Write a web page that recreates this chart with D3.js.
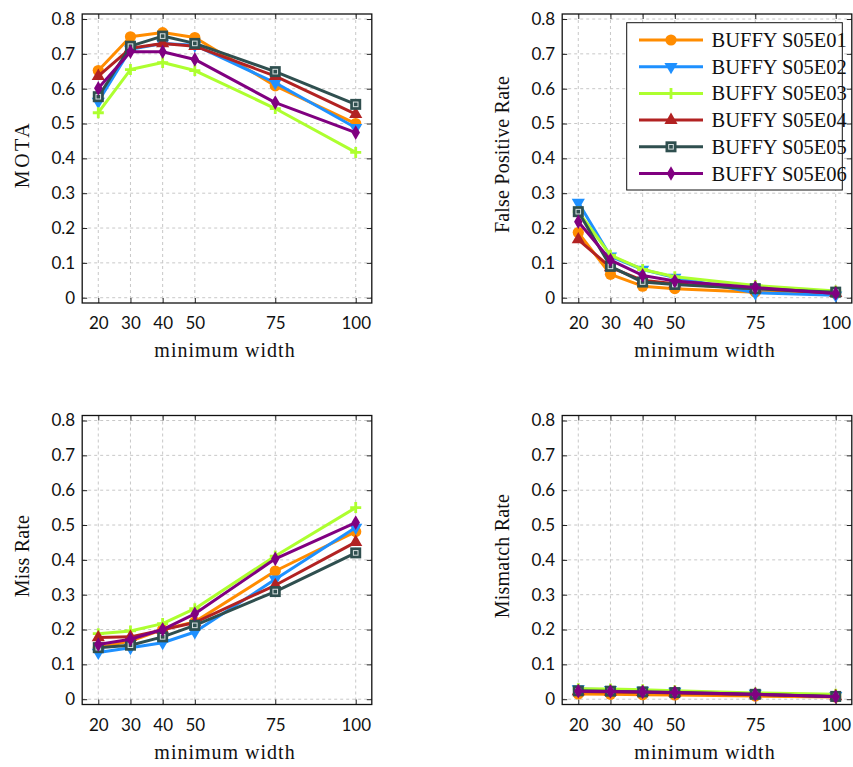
<!DOCTYPE html>
<html>
<head>
<meta charset="utf-8">
<script src="https://cdn.jsdelivr.net/npm/d3@7"></script>
<style>
  html, body { margin: 0; padding: 0; background: #fff; }
  svg { display: block; }
</style>
</head>
<body>
<svg id="chart" width="853" height="767"></svg>
<script>
// Minimum track width settings on the x axis
const widths = [20, 30, 40, 50, 75, 100];
const yTicks = [0, 0.1, 0.2, 0.3, 0.4, 0.5, 0.6, 0.7, 0.8];

const seriesNames = ["BUFFY S05E01", "BUFFY S05E02", "BUFFY S05E03",
                     "BUFFY S05E04", "BUFFY S05E05", "BUFFY S05E06"];
const seriesColors = ["#ff8c00", "#1e90ff", "#adff2f", "#b22222", "#2f4f4f", "#800080"];
const seriesMarkers = ["circle", "triangleDown", "plus", "triangleUp", "square", "diamond"];

// One row per episode, one value per minimum width
const mota = [
  [0.652, 0.749, 0.761, 0.747, 0.608, 0.500],
  [0.563, 0.713, 0.730, 0.725, 0.617, 0.488],
  [0.531, 0.655, 0.675, 0.652, 0.543, 0.417],
  [0.636, 0.716, 0.730, 0.722, 0.636, 0.527],
  [0.577, 0.722, 0.751, 0.730, 0.649, 0.555],
  [0.601, 0.706, 0.706, 0.684, 0.560, 0.474]
];
const falsePositive = [
  [0.187, 0.067, 0.033, 0.026, 0.016, 0.012],
  [0.273, 0.119, 0.081, 0.058, 0.014, 0.007],
  [0.247, 0.122, 0.081, 0.060, 0.035, 0.019],
  [0.167, 0.087, 0.050, 0.040, 0.026, 0.013],
  [0.247, 0.090, 0.045, 0.038, 0.026, 0.016],
  [0.218, 0.108, 0.064, 0.048, 0.029, 0.012]
];
const missRate = [
  [0.148, 0.167, 0.200, 0.222, 0.368, 0.481],
  [0.134, 0.148, 0.162, 0.193, 0.344, 0.493],
  [0.188, 0.196, 0.217, 0.260, 0.411, 0.550],
  [0.177, 0.179, 0.199, 0.220, 0.327, 0.451],
  [0.148, 0.155, 0.179, 0.212, 0.309, 0.420],
  [0.157, 0.172, 0.200, 0.245, 0.403, 0.507]
];
const mismatchRate = [
  [0.015, 0.014, 0.013, 0.012, 0.009, 0.006],
  [0.029, 0.027, 0.025, 0.022, 0.016, 0.010],
  [0.030, 0.029, 0.027, 0.024, 0.018, 0.014],
  [0.022, 0.021, 0.020, 0.018, 0.013, 0.008],
  [0.024, 0.023, 0.021, 0.019, 0.014, 0.008],
  [0.023, 0.022, 0.021, 0.019, 0.014, 0.007]
];

const svg = d3.select("#chart");
const plotW = 289.6, plotH = 289;
const tickFont = "Lato, 'Open Sans', sans-serif";
const titleFont = "'Liberation Serif', 'Times New Roman', serif";

const panels = [
  { values: mota,          title: "MOTA",                left: 82.2,  top: 14,    titleX: 22,  legend: false },
  { values: falsePositive, title: "False Positive Rate", left: 562.2, top: 14,    titleX: 502, legend: true },
  { values: missRate,      title: "Miss Rate",           left: 82.2,  top: 415.5, titleX: 22,  legend: false },
  { values: mismatchRate,  title: "Mismatch Rate",       left: 562.2, top: 415.5, titleX: 502, legend: false }
];

function drawMarker(g, type, color, x, y) {
  const t = `translate(${x},${y})`;
  if (type === "circle") {
    g.append("circle").attr("cx", x).attr("cy", y).attr("r", 5.6).attr("fill", color);
  } else if (type === "triangleDown" || type === "triangleUp") {
    g.append("path")
      .attr("d", d3.symbol(d3.symbolTriangle, 75)())
      .attr("transform", t + (type === "triangleDown" ? " rotate(180)" : ""))
      .attr("fill", color);
  } else if (type === "plus") {
    g.append("path")
      .attr("d", "M-5.5,0H5.5M0,-5.5V5.5")
      .attr("transform", t)
      .attr("stroke", color).attr("stroke-width", 2.8).attr("fill", "none");
  } else if (type === "square") {
    g.append("rect").attr("x", x - 5.5).attr("y", y - 5.5).attr("width", 11).attr("height", 11)
      .attr("fill", color);
    g.append("rect").attr("x", x - 2.3).attr("y", y - 2.3).attr("width", 4.6).attr("height", 4.6)
      .attr("fill", "none").attr("stroke", "#d8e0e0").attr("stroke-width", 1);
  } else if (type === "diamond") {
    g.append("path")
      .attr("d", d3.symbol(d3.symbolDiamond, 62)())
      .attr("transform", t)
      .attr("fill", color);
  }
}

panels.forEach(p => {
  const x = d3.scaleLinear().domain([15, 105]).range([p.left, p.left + plotW]);
  const y = d3.scaleLinear().domain([-0.0152, 0.8144]).range([p.top + plotH, p.top]);
  const g = svg.append("g");

  // dashed grid
  const grid = g.append("g").attr("stroke", "#c8c8c8").attr("stroke-width", 1)
    .attr("stroke-dasharray", "3,3").attr("fill", "none");
  widths.forEach(w => grid.append("line")
    .attr("x1", x(w)).attr("x2", x(w)).attr("y1", p.top).attr("y2", p.top + plotH));
  yTicks.forEach(v => grid.append("line")
    .attr("x1", p.left).attr("x2", p.left + plotW).attr("y1", y(v)).attr("y2", y(v)));

  // inward ticks on all four sides
  const fmt = v => v === 0 ? "0" : v.toFixed(1);
  const axL = g.append("g").attr("transform", `translate(${p.left},0)`)
    .call(d3.axisLeft(y).tickValues(yTicks).tickSize(-5).tickPadding(7).tickFormat(fmt));
  const axB = g.append("g").attr("transform", `translate(0,${p.top + plotH})`)
    .call(d3.axisBottom(x).tickValues(widths).tickSize(-5).tickPadding(14).tickFormat(d3.format("d")));
  const axR = g.append("g").attr("transform", `translate(${p.left + plotW},0)`)
    .call(d3.axisRight(y).tickValues(yTicks).tickSize(-5).tickFormat(""));
  const axT = g.append("g").attr("transform", `translate(0,${p.top})`)
    .call(d3.axisTop(x).tickValues(widths).tickSize(-5).tickFormat(""));
  [axL, axB, axR, axT].forEach(a => {
    a.select(".domain").remove();
    a.selectAll("line").attr("stroke", "#222").attr("stroke-width", 1);
    a.selectAll("text").attr("font-family", tickFont).attr("font-size", 17).attr("fill", "#111");
  });

  // series lines then markers
  const line = d3.line().x((d, i) => x(widths[i])).y(d => y(d));
  p.values.forEach((vals, s) => {
    g.append("path").datum(vals).attr("d", line)
      .attr("fill", "none").attr("stroke", seriesColors[s]).attr("stroke-width", 3)
      .attr("stroke-linejoin", "round");
    vals.forEach((v, i) => drawMarker(g, seriesMarkers[s], seriesColors[s], x(widths[i]), y(v)));
  });

  // frame
  g.append("rect").attr("x", p.left).attr("y", p.top).attr("width", plotW).attr("height", plotH)
    .attr("fill", "none").attr("stroke", "#111").attr("stroke-width", 1.3);

  // axis titles
  g.append("text").attr("x", p.left + plotW / 2 - 2).attr("y", p.top + plotH + 54)
    .attr("text-anchor", "middle").attr("font-family", titleFont).attr("font-size", 20)
    .attr("letter-spacing", 1).attr("fill", "#111").text("minimum width");
  g.append("text")
    .attr("transform", `translate(${p.titleX + 7},${p.top + plotH / 2 - 4}) rotate(-90)`)
    .attr("text-anchor", "middle").attr("font-family", titleFont).attr("font-size", 20)
    .attr("letter-spacing", p.title === "MOTA" ? 2.5 : 0.2).attr("fill", "#111").text(p.title);

  if (p.legend) {
    const lg = svg.append("g");
    lg.append("rect").attr("x", 626.7).attr("y", 22.7).attr("width", 215.6).attr("height", 167.3)
      .attr("fill", "#fff").attr("stroke", "#111").attr("stroke-width", 1);
    seriesNames.forEach((name, s) => {
      const cy = 40 + s * 26.7;
      lg.append("line").attr("x1", 639).attr("x2", 703).attr("y1", cy).attr("y2", cy)
        .attr("stroke", seriesColors[s]).attr("stroke-width", 3);
      drawMarker(lg, seriesMarkers[s], seriesColors[s], 671, cy);
      lg.append("text").attr("x", 711.5).attr("y", cy + 7)
        .attr("font-family", titleFont).attr("font-size", 20.5).attr("fill", "#111").text(name);
    });
  }
});
</script>
</body>
</html>
